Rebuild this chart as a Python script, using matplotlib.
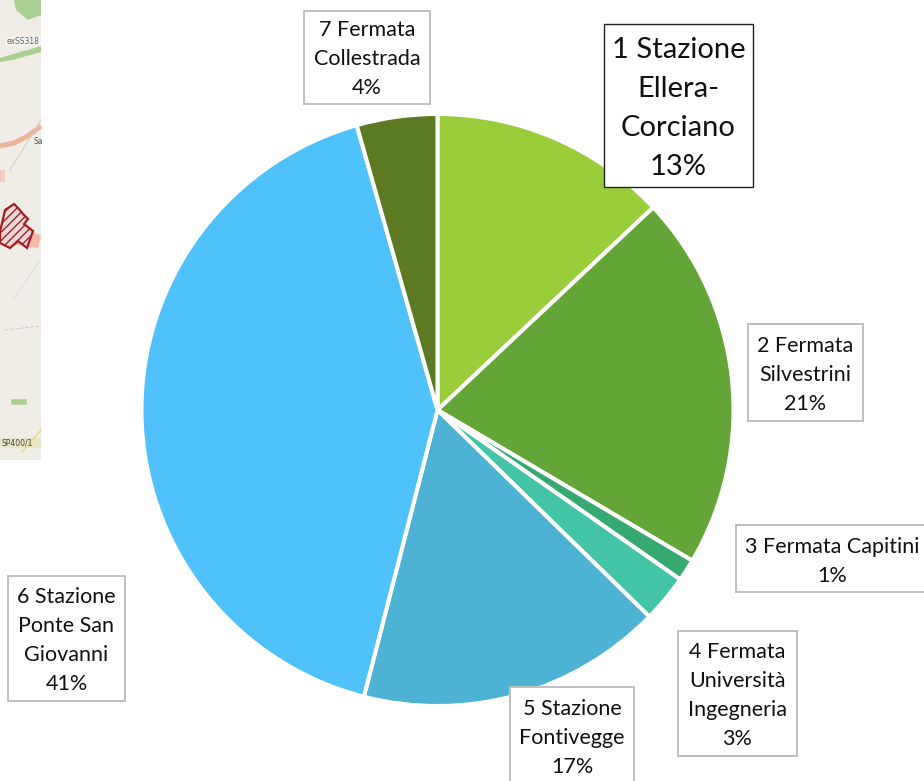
import matplotlib
matplotlib.use("Agg")
import matplotlib.pyplot as plt
from matplotlib.patches import Rectangle, Polygon

plt.rcParams['font.family'] = ['Lato', 'Open Sans', 'DejaVu Sans']

W, H = 924, 781
names = [["1 Stazione", "Ellera-", "Corciano"], ["2 Fermata", "Silvestrini"], ["3 Fermata Capitini"],
         ["4 Fermata", "Università", "Ingegneria"], ["5 Stazione", "Fontivegge"],
         ["6 Stazione", "Ponte San", "Giovanni"], ["7 Fermata", "Collestrada"]]
values = [13.0, 20.5, 1.2, 2.6, 16.7, 41.6, 4.4]
percent_labels = ["13%", "21%", "1%", "3%", "17%", "41%", "4%"]
colors = ["#9ACD3A", "#64A538", "#35A96F", "#44C4A6", "#4DB2D3", "#4FC1FB", "#5C7A22"]

# label boxes: x0, y0, x1, y1, first line centre, line step, font size, edge colour
boxes = [(604, 24, 753, 187, 50, 39, 21, "#222222"),
         (748, 324, 863, 421, 346, 29, 15.5, "#BFBFBF"),
         (736, 525, 930, 592, 547, 29, 15.5, "#BFBFBF"),
         (678, 631, 797, 756, 652, 29, 15.5, "#BFBFBF"),
         (510, 687, 634, 790, 709, 29, 15.5, "#BFBFBF"),
         (8, 576, 125, 701, 597, 29, 15.5, "#BFBFBF"),
         (304, 11, 430, 104, 30, 29, 15.5, "#BFBFBF")]

fig = plt.figure(figsize=(W / 100, H / 100), dpi=100, facecolor="white")

# map fragment at the left edge
mp = fig.add_axes([0, 0, 1, 1], zorder=0)
mp.set_xlim(0, W); mp.set_ylim(H, 0); mp.axis("off")
mp.add_patch(Rectangle((0, 0), 41, 460, fc="#F0EDE6", ec="none"))
mp.fill([14, 41, 41, 28, 16], [0, 0, 15, 20, 10], fc="#A9CF92", ec="none")
mp.fill([0, 41, 41, 12, 0], [58, 46, 52, 60, 62], fc="#A9CF92", ec="none")
mp.add_patch(Rectangle((6, 37), 35, 9, fc="#F4F4F0", ec="none"))
mp.text(7, 41.5, "exSS318", fontsize=5.5, color="#666666", va="center", family="DejaVu Sans")
mp.plot([0, 14, 28, 41], [146, 143, 136, 126], color="#EDB39C", lw=3.6, solid_capstyle="butt")
mp.text(33, 142, "Sa", fontsize=5.5, color="#555555", va="center", family="DejaVu Sans")
mp.add_patch(Rectangle((0, 170), 5, 12, fc="#F0D2C2", ec="none"))
mp.add_patch(Polygon([(0, 225), (14, 222), (41, 236), (38, 248), (10, 244), (0, 236)], fc="#F1B9A8", ec="none"))
mp.add_patch(Polygon([(0, 232), (5, 210), (14, 204), (18, 208), (24, 215), (28, 219), (24, 224), (33, 231),
                      (27, 248), (18, 241), (10, 248), (0, 243)], fc="#E9DADA", ec="#A81D22", lw=1.6, hatch="////"))
mp.plot([10, 41], [170, 120], color="#CCCCCC", lw=0.7)
mp.plot([5, 41], [330, 326], color="#D8C4CC", lw=0.7, ls="--")
mp.plot([13, 40], [300, 260], color="#DDDDDD", lw=0.7)
mp.plot([14, 24], [402, 402], color="#A9CF92", lw=4)
mp.plot([22, 41], [452, 430], color="#E4E08A", lw=1.2)
mp.add_patch(Rectangle((0, 438), 41, 10, fc="#E8E6C9", ec="none"))
mp.text(1, 443, "SP400/1", fontsize=5.5, color="#444444", va="center", family="DejaVu Sans")

# pie
cx, cy, r = 437.5, 410, 296
ax = fig.add_axes([(cx - r) / W, 1 - (cy + r) / H, 2 * r / W, 2 * r / H], zorder=1)
ax.pie(values, colors=colors, startangle=90, counterclock=False, radius=1,
       wedgeprops=dict(edgecolor="white", linewidth=2.9))
ax.set_xlim(-1, 1); ax.set_ylim(-1, 1)
ax.set_aspect("equal"); ax.axis("off")

# labels
ov = fig.add_axes([0, 0, 1, 1], zorder=2)
ov.set_xlim(0, W); ov.set_ylim(H, 0); ov.axis("off"); ov.patch.set_alpha(0)
for name, pct, (x0, y0, x1, y1, first, step, fs, ec) in zip(names, percent_labels, boxes):
    ov.add_patch(Rectangle((x0, y0), x1 - x0, y1 - y0, fc="white", ec=ec, lw=1.4 if fs < 20 else 1.0))
    xc = (x0 + x1) / 2 if x1 <= W else 832
    for i, line in enumerate(name + [pct]):
        ov.text(xc, first + i * step, line, ha="center", va="center", fontsize=fs, color="#111111")

fig.savefig("out.png", dpi=100)
